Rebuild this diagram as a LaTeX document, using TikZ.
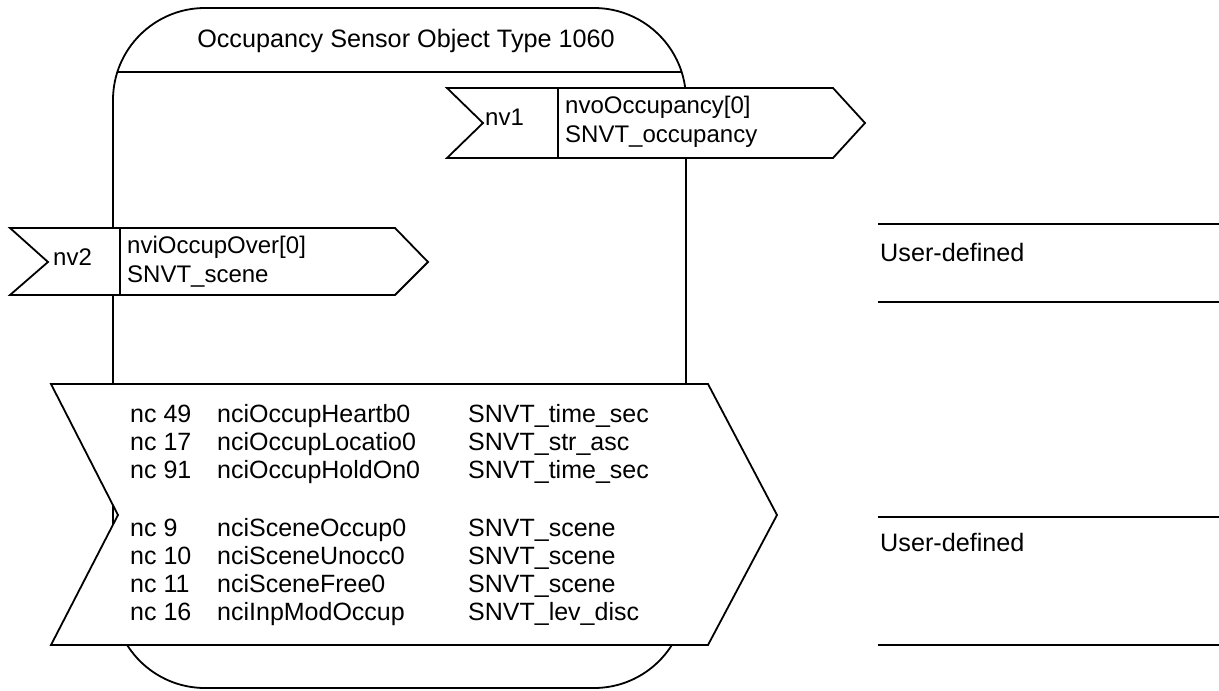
\documentclass[tikz,border=0pt]{standalone}
\usepackage{fontspec}
\setmainfont{Liberation Sans}
\begin{document}
\begin{tikzpicture}[x=1pt,y=-1pt,
  outline/.style={draw=black,line width=1.8pt,line join=miter},
  boxfill/.style={outline,fill=white},
  txt/.style={inner sep=0pt,anchor=base west,font=\fontsize{24}{28}\selectfont},
  listtxt/.style={inner sep=0pt,anchor=base west,font=\fontsize{25}{28}\selectfont},
  bigtxt/.style={inner sep=0pt,font=\fontsize{25.2}{29}\selectfont}]
\useasboundingbox (0,0) rectangle (1219,691);

% object body with its header
\draw[outline,rounded corners=92pt] (113,8) rectangle (686,688);
\coordinate (hl) at (117.5,72);
\coordinate (hr) at (681.5,72);
\draw[outline] (hl) -- (hr);
\node[bigtxt,anchor=base] (title) at (406,47) {Occupancy Sensor Object Type 1060};

% output variable nv1
\draw[boxfill] (447,88) -- (833,88) -- (865,123) -- (833,158) -- (447,158) -- (483,123) -- cycle;
\draw[outline] (558,88) -- (558,158);
\node[txt] (nv1) at (485,125) {nv1};
\node[txt] (nv1a) at (565,113) {nvoOccupancy[0]};
\node[txt] (nv1b) at (565,142) {SNVT\_occupancy};

% input variable nv2
\draw[boxfill] (10,228) -- (395,228) -- (428,262) -- (395,295) -- (10,295) -- (48,262) -- cycle;
\draw[outline] (120,228) -- (120,295);
\node[txt] (nv2) at (53,265) {nv2};
\node[txt] (nv2a) at (127,253) {nviOccupOver[0]};
\node[txt] (nv2b) at (127,282) {SNVT\_scene};

% configuration properties
\draw[boxfill] (51,384) -- (708,384) -- (777,515) -- (708,645) -- (51,645) -- (118,515) -- cycle;
\foreach \y/\a/\b/\c [count=\i] in {
  422/nc 49/nciOccupHeartb0/SNVT\_time\_sec,
  450/nc 17/nciOccupLocatio0/SNVT\_str\_asc,
  478/nc 91/nciOccupHoldOn0/SNVT\_time\_sec,
  536/nc 9/nciSceneOccup0/SNVT\_scene,
  564/nc 10/nciSceneUnocc0/SNVT\_scene,
  592/nc 11/nciSceneFree0/SNVT\_scene,
  620/nc 16/nciInpModOccup/SNVT\_lev\_disc}{
  \node[listtxt] (nc\i) at (130,\y) {\a};
  \node[listtxt] (nn\i) at (217,\y) {\b};
  \node[listtxt] (nt\i) at (468,\y) {\c};
}

% user-defined sections
\coordinate (u1l) at (878,224); \coordinate (u1r) at (1219,224);
\coordinate (u2l) at (878,302); \coordinate (u2r) at (1219,302);
\coordinate (u3l) at (878,517); \coordinate (u3r) at (1219,517);
\coordinate (u4l) at (878,645); \coordinate (u4r) at (1219,645);
\draw[outline] (u1l) -- (u1r);
\draw[outline] (u2l) -- (u2r);
\draw[outline] (u3l) -- (u3r);
\draw[outline] (u4l) -- (u4r);
\node[bigtxt,anchor=base west] (ud1) at (880,261) {User-defined};
\node[bigtxt,anchor=base west] (ud2) at (880,551) {User-defined};
\end{tikzpicture}
\end{document}
